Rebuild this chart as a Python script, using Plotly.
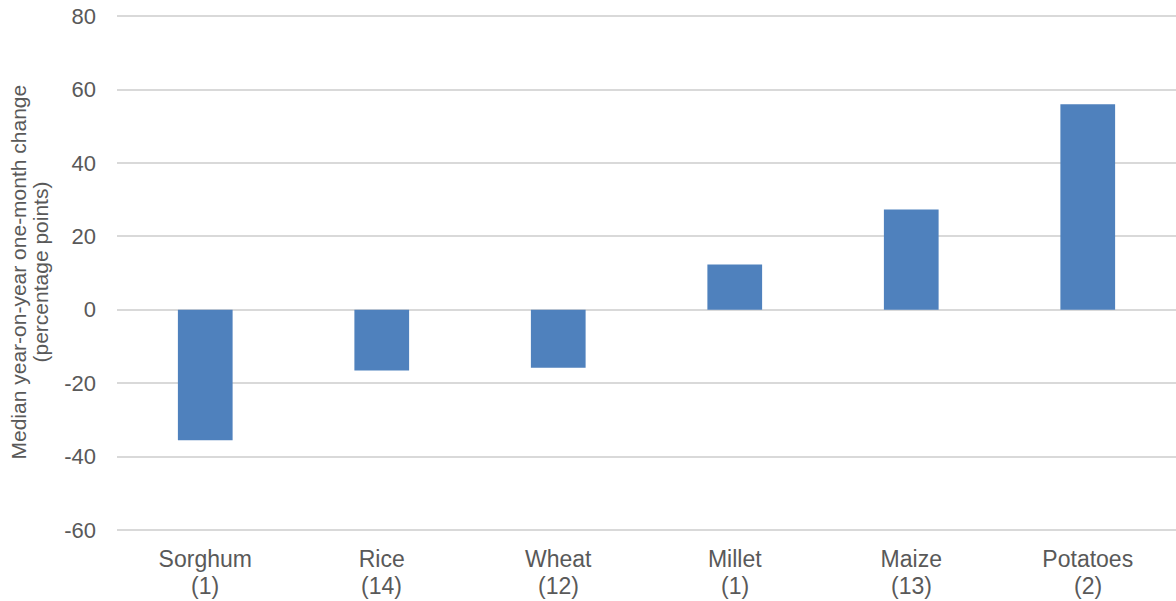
import plotly.graph_objects as go

# Crop categories, with number of countries in brackets
crops = ["Sorghum", "Rice", "Wheat", "Millet", "Maize", "Potatoes"]
counts = [1, 14, 12, 1, 13, 2]
median_change = [-35.6, -16.6, -15.8, 12.3, 27.3, 56.0]

y_ticks = [-60, -40, -20, 0, 20, 40, 60, 80]
y_tick_text = [str(v) for v in y_ticks]  # plain hyphen for negatives

title_lines = ["Median year-on-year one-month change", "(percentage points)"]

FONT = "Liberation Sans, Arial, sans-serif"
GREY = "#595959"

# plot area geometry (pixels)
L, R, T, B = 117, 0, 15, 70
W = 1176 - L - R
H = 601 - T - B

fig = go.Figure(
    go.Bar(
        x=crops,
        y=median_change,
        marker=dict(color="#4F81BD", line=dict(width=0)),
        width=0.31,
    )
)

fig.update_layout(
    width=1176,
    height=601,
    margin=dict(l=L, r=R, t=T, b=B),
    paper_bgcolor="white",
    plot_bgcolor="white",
    showlegend=False,
    font=dict(family=FONT, color=GREY, size=23),
)

fig.update_xaxes(
    showgrid=False,
    showline=False,
    zeroline=False,
    ticks="",
    tickfont=dict(size=23, color=GREY),
    ticklabelstandoff=12,
)

fig.update_yaxes(
    range=[-60.3, 80.3],
    tickvals=y_ticks,
    ticktext=y_tick_text,
    showgrid=True,
    gridcolor="#D9D9D9",
    gridwidth=1.5,
    zeroline=True,
    zerolinecolor="#D9D9D9",
    zerolinewidth=1.5,
    showline=False,
    ticks="",
    tickfont=dict(size=22, color=GREY),
    ticklabelstandoff=20,
)

# country counts under each crop name
for crop, n in zip(crops, counts):
    fig.add_annotation(
        text=f"({n})",
        x=crop,
        xref="x",
        y=0,
        yref="paper",
        yanchor="middle",
        yshift=-55,
        showarrow=False,
        font=dict(family=FONT, size=23, color=GREY),
    )

# two-line rotated y-axis title
for line, x_px in zip(title_lines, [17.5, 39.5]):
    fig.add_annotation(
        text=line,
        xref="paper",
        yref="paper",
        x=(x_px - L) / W,
        y=(601 - B - 272) / H,
        xanchor="center",
        yanchor="middle",
        textangle=-90,
        showarrow=False,
        font=dict(family=FONT, size=21, color=GREY),
    )

fig.write_html("out.html")
